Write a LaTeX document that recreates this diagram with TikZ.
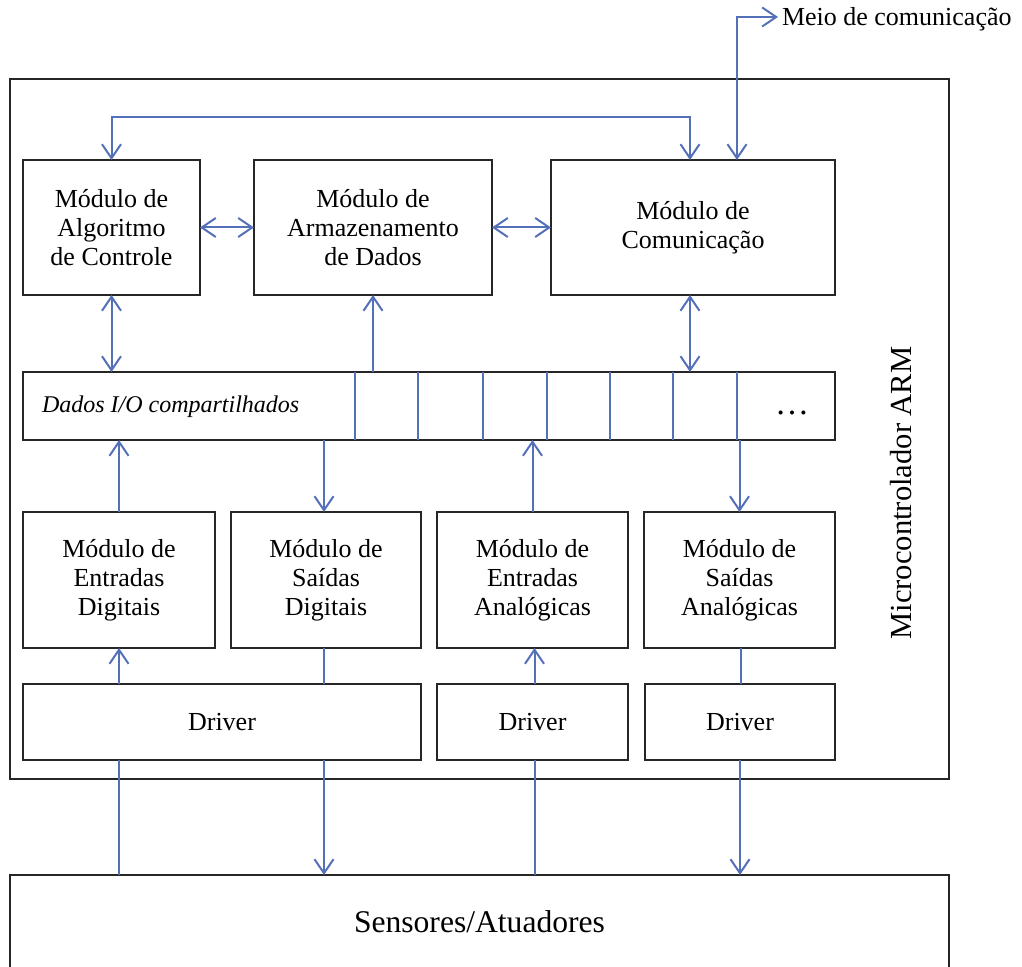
\documentclass[tikz,border=0pt]{standalone}
\usepackage{fontspec}
\setmainfont{Liberation Serif}
\usetikzlibrary{arrows.meta}
\definecolor{linkblue}{HTML}{5470B8}
\begin{document}
\begin{tikzpicture}[x=0.5pt,y=-0.5pt,
  box/.style={draw=black!85, line width=0.65pt, inner sep=0pt, outer sep=0pt,
    align=center, font=\fontsize{13}{14.5}\selectfont},
  plain/.style={inner sep=1pt, outer sep=0pt, font=\fontsize{13}{14.5}\selectfont},
  link/.style={draw=linkblue, line width=1pt},
  barb/.tip={Straight Barb[length=7pt,width=9.5pt,line width=1pt]},
  oneway/.style={link, -barb},
  twoway/.style={link, barb-barb}]
\useasboundingbox (0,0) rectangle (1022,967);

% enclosing blocks
\node[box, minimum width=469.5pt, minimum height=350pt] (mcu) at (479.5,429) {};
\node[box, minimum width=469.5pt, minimum height=47pt,
      font=\fontsize{15.8}{18}\selectfont] (sens) at (479.5,922) {Sensores/Atuadores};
\node[plain, rotate=90, font=\fontsize{15.3}{17}\selectfont] (mcutxt) at (901,493) {Microcontrolador ARM};

% upper modules
\node[box, minimum width=88.5pt, minimum height=67.5pt] (alg) at (111.5,227.5)
  {Módulo de\\Algoritmo\\de Controle};
\node[box, minimum width=119pt, minimum height=67.5pt] (arm) at (373,227.5)
  {Módulo de\\Armazenamento\\de Dados};
\node[box, minimum width=142pt, minimum height=67.5pt] (com) at (693,227.5)
  {Módulo de\\Comunicação};

% shared I/O data
\node[box, minimum width=406pt, minimum height=34pt] (dados) at (429,406) {};
\node[plain, anchor=west, font=\fontsize{12}{14}\selectfont\itshape] (dadostxt) at (40,407)
  {Dados I/O compartilhados};
\node[plain, font=\fontsize{17}{18}\selectfont] (dots) at (792,413) {\dots};
\foreach \x in {355,418,483,547,610,673,737}
  \draw[link] (\x,0 |- dados.north) -- (\x,0 |- dados.south);

% I/O modules
\node[box, minimum width=96pt, minimum height=68pt] (ED) at (119,580)
  {Módulo de\\Entradas\\Digitais};
\node[box, minimum width=95pt, minimum height=68pt] (SD) at (326,580)
  {Módulo de\\Saídas\\Digitais};
\node[box, minimum width=95.5pt, minimum height=68pt] (EA) at (532.5,580)
  {Módulo de\\Entradas\\Analógicas};
\node[box, minimum width=95.5pt, minimum height=68pt] (SA) at (739.5,580)
  {Módulo de\\Saídas\\Analógicas};

% drivers
\node[box, minimum width=199pt, minimum height=38pt] (drv1) at (222,722) {Driver};
\node[box, minimum width=95.5pt, minimum height=38pt] (drv2) at (532.5,722) {Driver};
\node[box, minimum width=95pt, minimum height=38pt] (drv3) at (740,722) {Driver};

% external link
\node[plain, anchor=west, inner sep=2pt, font=\fontsize{13}{14}\selectfont] (meiotxt) at (778,19) {Meio de comunicação};

% connections between the upper modules
\draw[twoway] (alg.north) -- ++(0,-43) -| ([xshift=-1.5pt]com.north);
\draw[twoway] ([xshift=22pt]com.north) |- ([yshift=1pt]meiotxt.west);
\draw[twoway] (alg) -- (arm);
\draw[twoway] (arm) -- (com);
\draw[twoway] (alg.south) -- (alg.south |- dados.north);
\draw[oneway] (arm.south |- dados.north) -- (arm.south);
\draw[twoway] ([xshift=-1.5pt]com.south) -- ([xshift=-1.5pt]com.south |- dados.north);

% I/O modules to shared data
\draw[oneway] (ED.north) -- (ED.north |- dados.south);
\draw[oneway] ([xshift=-1pt]SD.north |- dados.south) -- ([xshift=-1pt]SD.north);
\draw[oneway] (EA.north) -- (EA.north |- dados.south);
\draw[oneway] (SA.north |- dados.south) -- (SA.north);

% drivers to I/O modules
\draw[oneway] (ED.south |- drv1.north) -- (ED.south);
\draw[link] ([xshift=-1pt]SD.south) -- ([xshift=-1pt]SD.south |- drv1.north);
\draw[oneway] ([xshift=1pt]drv2.north) -- ([xshift=1pt]EA.south);
\draw[link] ([xshift=0.5pt]SA.south) -- ([xshift=0.5pt]SA.south |- drv3.north);

% drivers to sensors and actuators
\draw[link] (ED.south |- sens.north) -- (ED.south |- drv1.south);
\draw[oneway] ([xshift=-1pt]SD.south |- drv1.south) -- ([xshift=-1pt]SD.south |- sens.north);
\draw[link] ([xshift=1pt]drv2.south) -- ([xshift=1pt]drv2.south |- sens.north);
\draw[oneway] (drv3.south) -- (drv3.south |- sens.north);
\end{tikzpicture}
\end{document}
